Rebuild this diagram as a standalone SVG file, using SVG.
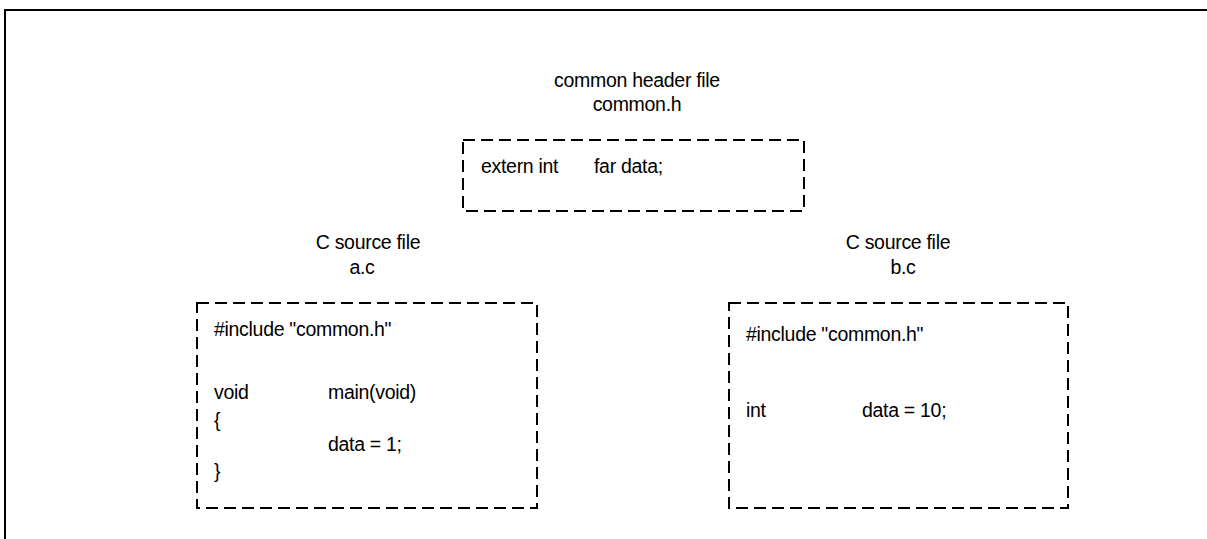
<svg xmlns="http://www.w3.org/2000/svg" width="1207" height="539" viewBox="0 0 1207 539">
<style>
text{font-family:"Liberation Sans",Arial,sans-serif;font-size:19.5px;fill:#000;letter-spacing:-0.3px}
.c{text-anchor:middle}
.box{fill:none;stroke:#000;stroke-width:2;stroke-dasharray:12 6}
</style>
<rect width="1207" height="539" fill="#fff"/>
<path d="M5,539 V10 H1207" fill="none" stroke="#000" stroke-width="2"/>
<g id="header">
<text class="c" x="637" y="87">common header file</text>
<text class="c" x="637" y="111">common.h</text>
<rect class="box" x="463" y="140" width="341" height="71"/>
<text x="481" y="173">extern int</text>
<text x="594" y="173">far data;</text>
</g>
<g id="a_c">
<text class="c" x="368" y="249">C source file</text>
<text class="c" x="362" y="274">a.c</text>
<rect class="box" x="197" y="303" width="340" height="205"/>
<text x="214" y="336">#include "common.h"</text>
<text x="214" y="399">void</text>
<text x="328" y="399">main(void)</text>
<text x="214" y="427">{</text>
<text x="328" y="451">data = 1;</text>
<text x="214" y="478">}</text>
</g>
<g id="b_c">
<text class="c" x="898" y="249">C source file</text>
<text class="c" x="903" y="274">b.c</text>
<rect class="box" x="729" y="303" width="339" height="205"/>
<text x="746" y="341">#include "common.h"</text>
<text x="746" y="417">int</text>
<text x="862" y="417">data = 10;</text>
</g>
<g id="connectors"></g>
</svg>
